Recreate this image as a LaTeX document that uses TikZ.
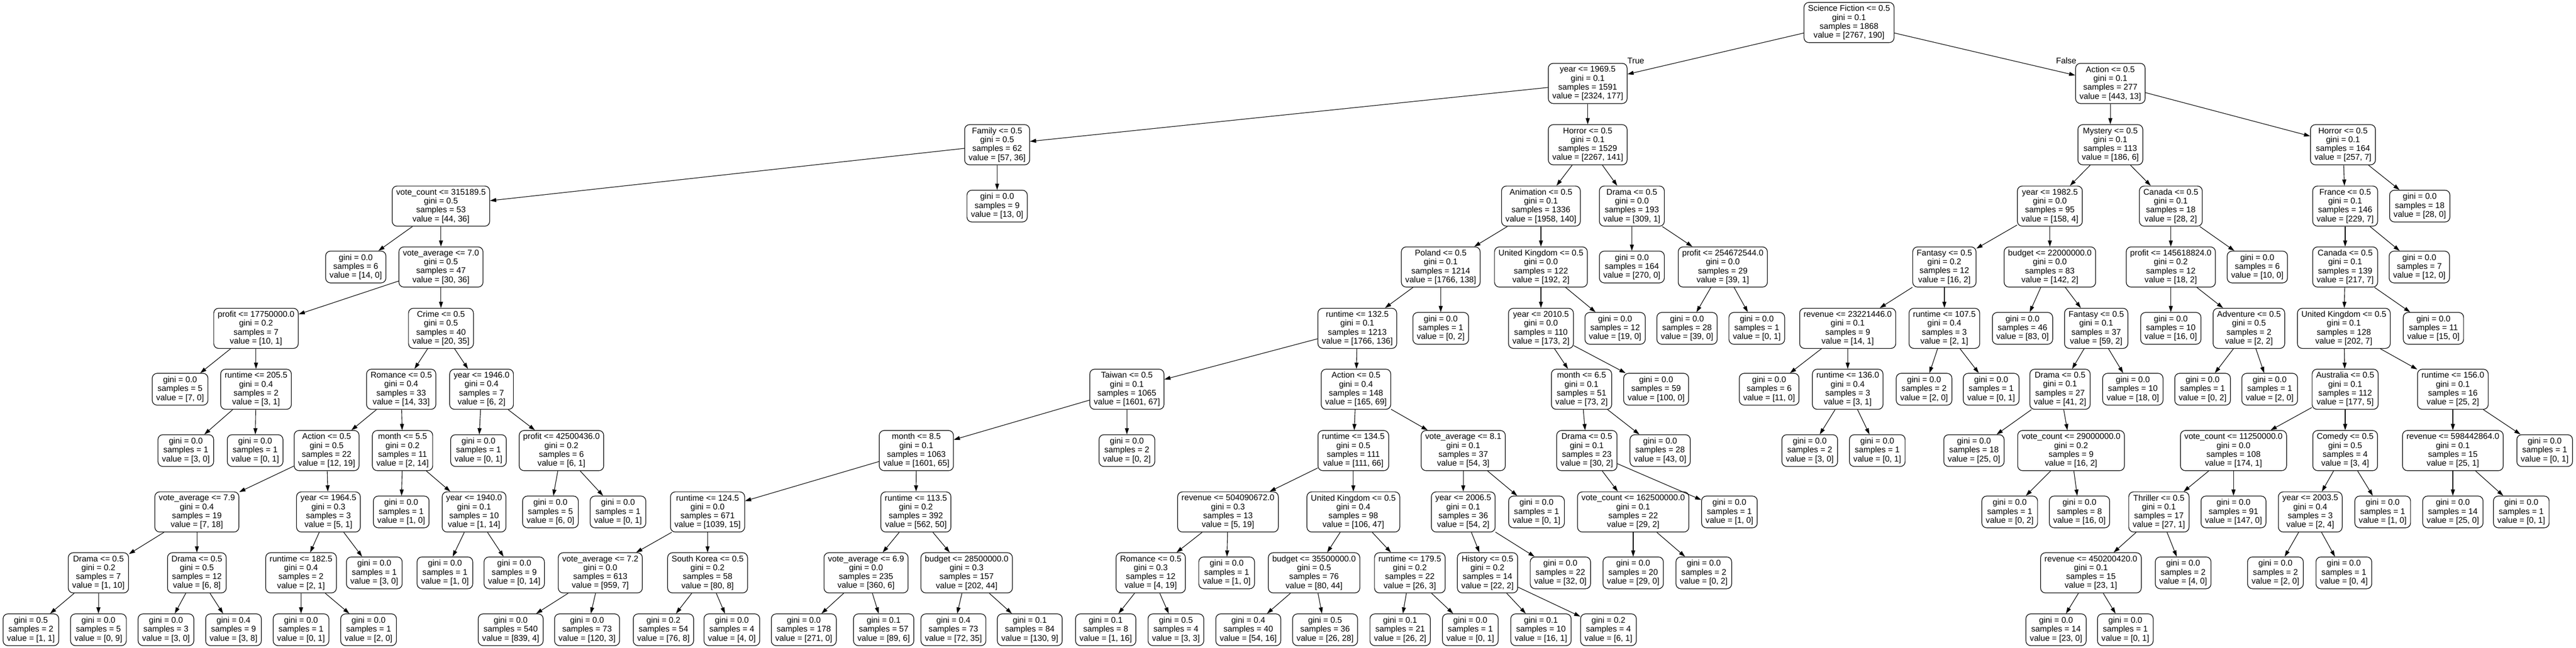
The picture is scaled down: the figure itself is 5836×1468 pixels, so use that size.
\documentclass[tikz,border=0pt]{standalone}
\usepackage{fontspec}
\setmainfont{Liberation Sans}
\usetikzlibrary{arrows.meta}
\newcommand\sv[4]{#1\\gini = #2\\samples = #3\\value = [#4]}
\newcommand\lv[3]{gini = #1\\samples = #2\\value = [#3]}
\newcommand\kid[6]{\node[#1] (#3) at (#4,#5) {#6}; \draw[edg] (#2) -- (#3);}
\begin{document}
\begin{tikzpicture}[x=1pt,y=-1pt,
 dnode/.style={draw, line width=1.4pt, rounded corners=11pt, align=center, inner xsep=9pt, inner ysep=2pt, minimum height=91pt, font=\fontsize{18.8}{20.2}\selectfont},
 lnode/.style={dnode, minimum height=72pt},
 edg/.style={line width=1.3pt, -{Triangle[length=14pt,width=9pt]}},
 lab/.style={font=\fontsize{18.8}{20.2}\selectfont, inner sep=0pt}]
\fill[white] (0,0) rectangle (5836,1468);
\useasboundingbox (0,0) rectangle (5836,1468);
% level 0
\node[dnode] (t) at (4189,51) {\sv{Science Fiction <= 0.5}{0.1}{1868}{2767, 190}};
\node[lab] (ltrue) at (3706,138) {True};
\node[lab] (lfalse) at (4681,138) {False};
% level 1
\kid{dnode}{t}{t0}{3597}{189}{\sv{year <= 1969.5}{0.1}{1591}{2324, 177}}
\kid{dnode}{t}{t1}{4781}{189}{\sv{Action <= 0.5}{0.1}{277}{443, 13}}
% level 2
\kid{dnode}{t0}{t00}{2259}{328}{\sv{Family <= 0.5}{0.5}{62}{57, 36}}
\kid{dnode}{t0}{t01}{3597}{328}{\sv{Horror <= 0.5}{0.1}{1529}{2267, 141}}
\kid{dnode}{t1}{t10}{4781}{328}{\sv{Mystery <= 0.5}{0.1}{113}{186, 6}}
\kid{dnode}{t1}{t11}{5308}{328}{\sv{Horror <= 0.5}{0.1}{164}{257, 7}}
% level 3
\kid{dnode}{t00}{t000}{999}{467}{\sv{vote\_count <= 315189.5}{0.5}{53}{44, 36}}
\kid{lnode}{t00}{t001}{2259}{467}{\lv{0.0}{9}{13, 0}}
\kid{dnode}{t01}{t010}{3491}{467}{\sv{Animation <= 0.5}{0.1}{1336}{1958, 140}}
\kid{dnode}{t01}{t011}{3697}{467}{\sv{Drama <= 0.5}{0.0}{193}{309, 1}}
\kid{dnode}{t10}{t100}{4644}{467}{\sv{year <= 1982.5}{0.0}{95}{158, 4}}
\kid{dnode}{t10}{t101}{4918}{467}{\sv{Canada <= 0.5}{0.1}{18}{28, 2}}
\kid{dnode}{t11}{t110}{5313}{467}{\sv{France <= 0.5}{0.1}{146}{229, 7}}
\kid{lnode}{t11}{t111}{5482}{467}{\lv{0.0}{18}{28, 0}}
% level 4
\kid{lnode}{t000}{t0000}{806}{605}{\lv{0.0}{6}{14, 0}}
\kid{dnode}{t000}{t0001}{999}{605}{\sv{vote\_average <= 7.0}{0.5}{47}{30, 36}}
\kid{dnode}{t010}{t0100}{3264}{605}{\sv{Poland <= 0.5}{0.1}{1214}{1766, 138}}
\kid{dnode}{t010}{t0101}{3491}{605}{\sv{United Kingdom <= 0.5}{0.0}{122}{192, 2}}
\kid{lnode}{t011}{t0110}{3697}{605}{\lv{0.0}{164}{270, 0}}
\kid{dnode}{t011}{t0111}{3903}{605}{\sv{profit <= 254672544.0}{0.0}{29}{39, 1}}
\kid{dnode}{t100}{t1000}{4405}{605}{\sv{Fantasy <= 0.5}{0.2}{12}{16, 2}}
\kid{dnode}{t100}{t1001}{4644}{605}{\sv{budget <= 22000000.0}{0.0}{83}{142, 2}}
\kid{dnode}{t101}{t1010}{4918}{605}{\sv{profit <= 145618824.0}{0.2}{12}{18, 2}}
\kid{lnode}{t101}{t1011}{5114}{605}{\lv{0.0}{6}{10, 0}}
\kid{dnode}{t110}{t1100}{5313}{605}{\sv{Canada <= 0.5}{0.1}{139}{217, 7}}
\kid{lnode}{t110}{t1101}{5481}{605}{\lv{0.0}{7}{12, 0}}
% level 5
\kid{dnode}{t0001}{t00010}{580}{744}{\sv{profit <= 17750000.0}{0.2}{7}{10, 1}}
\kid{dnode}{t0001}{t00011}{999}{744}{\sv{Crime <= 0.5}{0.5}{40}{20, 35}}
\kid{dnode}{t0100}{t01000}{3075}{744}{\sv{runtime <= 132.5}{0.1}{1213}{1766, 136}}
\kid{lnode}{t0100}{t01001}{3264}{744}{\lv{0.0}{1}{0, 2}}
\kid{dnode}{t0101}{t01010}{3491}{744}{\sv{year <= 2010.5}{0.0}{110}{173, 2}}
\kid{lnode}{t0101}{t01011}{3659}{744}{\lv{0.0}{12}{19, 0}}
\kid{lnode}{t0111}{t01110}{3822}{744}{\lv{0.0}{28}{39, 0}}
\kid{lnode}{t0111}{t01111}{3980}{744}{\lv{0.0}{1}{0, 1}}
\kid{dnode}{t1000}{t10000}{4186}{744}{\sv{revenue <= 23221446.0}{0.1}{9}{14, 1}}
\kid{dnode}{t1000}{t10001}{4405}{744}{\sv{runtime <= 107.5}{0.4}{3}{2, 1}}
\kid{lnode}{t1001}{t10010}{4582}{744}{\lv{0.0}{46}{83, 0}}
\kid{dnode}{t1001}{t10011}{4749}{744}{\sv{Fantasy <= 0.5}{0.1}{37}{59, 2}}
\kid{lnode}{t1010}{t10100}{4918}{744}{\lv{0.0}{10}{16, 0}}
\kid{dnode}{t1010}{t10101}{5095}{744}{\sv{Adventure <= 0.5}{0.5}{2}{2, 2}}
\kid{dnode}{t1100}{t11000}{5310}{744}{\sv{United Kingdom <= 0.5}{0.1}{128}{202, 7}}
\kid{lnode}{t1100}{t11001}{5513}{744}{\lv{0.0}{11}{15, 0}}
% level 6
\kid{lnode}{t00010}{t000100}{408}{882}{\lv{0.0}{5}{7, 0}}
\kid{dnode}{t00010}{t000101}{580}{882}{\sv{runtime <= 205.5}{0.4}{2}{3, 1}}
\kid{dnode}{t00011}{t000110}{909}{882}{\sv{Romance <= 0.5}{0.4}{33}{14, 33}}
\kid{dnode}{t00011}{t000111}{1091}{882}{\sv{year <= 1946.0}{0.4}{7}{6, 2}}
\kid{dnode}{t01000}{t010000}{2553}{882}{\sv{Taiwan <= 0.5}{0.1}{1065}{1601, 67}}
\kid{dnode}{t01000}{t010001}{3072}{882}{\sv{Action <= 0.5}{0.4}{148}{165, 69}}
\kid{dnode}{t01010}{t010100}{3583}{882}{\sv{month <= 6.5}{0.1}{51}{73, 2}}
\kid{lnode}{t01010}{t010101}{3752}{882}{\lv{0.0}{59}{100, 0}}
\kid{lnode}{t10000}{t100000}{4008}{882}{\lv{0.0}{6}{11, 0}}
\kid{dnode}{t10000}{t100001}{4186}{882}{\sv{runtime <= 136.0}{0.4}{3}{3, 1}}
\kid{lnode}{t10001}{t100010}{4359}{882}{\lv{0.0}{2}{2, 0}}
\kid{lnode}{t10001}{t100011}{4511}{882}{\lv{0.0}{1}{0, 1}}
\kid{dnode}{t10011}{t100110}{4667}{882}{\sv{Drama <= 0.5}{0.1}{27}{41, 2}}
\kid{lnode}{t10011}{t100111}{4832}{882}{\lv{0.0}{10}{18, 0}}
\kid{lnode}{t10101}{t101010}{4990}{882}{\lv{0.0}{1}{0, 2}}
\kid{lnode}{t10101}{t101011}{5142}{882}{\lv{0.0}{1}{2, 0}}
\kid{dnode}{t11000}{t110000}{5313}{882}{\sv{Australia <= 0.5}{0.1}{112}{177, 5}}
\kid{dnode}{t11000}{t110001}{5557}{882}{\sv{runtime <= 156.0}{0.1}{16}{25, 2}}
% level 7
\kid{lnode}{t000101}{t0001010}{421}{1021}{\lv{0.0}{1}{3, 0}}
\kid{lnode}{t000101}{t0001011}{578}{1021}{\lv{0.0}{1}{0, 1}}
\kid{dnode}{t000110}{t0001100}{740}{1021}{\sv{Action <= 0.5}{0.5}{22}{12, 19}}
\kid{dnode}{t000110}{t0001101}{912}{1021}{\sv{month <= 5.5}{0.2}{11}{2, 14}}
\kid{lnode}{t000111}{t0001110}{1084}{1021}{\lv{0.0}{1}{0, 1}}
\kid{dnode}{t000111}{t0001111}{1272}{1021}{\sv{profit <= 42500436.0}{0.2}{6}{6, 1}}
\kid{dnode}{t010000}{t0100000}{2076}{1021}{\sv{month <= 8.5}{0.1}{1063}{1601, 65}}
\kid{lnode}{t010000}{t0100001}{2553}{1021}{\lv{0.0}{2}{0, 2}}
\kid{dnode}{t010001}{t0100010}{3066}{1021}{\sv{runtime <= 134.5}{0.5}{111}{111, 66}}
\kid{dnode}{t010001}{t0100011}{3315}{1021}{\sv{vote\_average <= 8.1}{0.1}{37}{54, 3}}
\kid{dnode}{t010100}{t0101000}{3595}{1021}{\sv{Drama <= 0.5}{0.1}{23}{30, 2}}
\kid{lnode}{t010100}{t0101001}{3761}{1021}{\lv{0.0}{28}{43, 0}}
\kid{lnode}{t100001}{t1000010}{4100}{1021}{\lv{0.0}{2}{3, 0}}
\kid{lnode}{t100001}{t1000011}{4253}{1021}{\lv{0.0}{1}{0, 1}}
\kid{lnode}{t100110}{t1001100}{4472}{1021}{\lv{0.0}{18}{25, 0}}
\kid{dnode}{t100110}{t1001101}{4692}{1021}{\sv{vote\_count <= 29000000.0}{0.2}{9}{16, 2}}
\kid{dnode}{t110000}{t1100000}{5060}{1021}{\sv{vote\_count <= 11250000.0}{0.0}{108}{174, 1}}
\kid{dnode}{t110000}{t1100001}{5313}{1021}{\sv{Comedy <= 0.5}{0.5}{4}{3, 4}}
\kid{dnode}{t110001}{t1100010}{5557}{1021}{\sv{revenue <= 598442864.0}{0.1}{15}{25, 1}}
\kid{lnode}{t110001}{t1100011}{5765}{1021}{\lv{0.0}{1}{0, 1}}
% level 8
\kid{dnode}{t0001100}{t00011000}{446}{1160}{\sv{vote\_average <= 7.9}{0.4}{19}{7, 18}}
\kid{dnode}{t0001100}{t00011001}{744}{1160}{\sv{year <= 1964.5}{0.3}{3}{5, 1}}
\kid{lnode}{t0001101}{t00011010}{909}{1160}{\lv{0.0}{1}{1, 0}}
\kid{dnode}{t0001101}{t00011011}{1074}{1160}{\sv{year <= 1940.0}{0.1}{10}{1, 14}}
\kid{lnode}{t0001111}{t00011110}{1247}{1160}{\lv{0.0}{5}{6, 0}}
\kid{lnode}{t0001111}{t00011111}{1400}{1160}{\lv{0.0}{1}{0, 1}}
\kid{dnode}{t0100000}{t01000000}{1603}{1160}{\sv{runtime <= 124.5}{0.0}{671}{1039, 15}}
\kid{dnode}{t0100000}{t01000001}{2075}{1160}{\sv{runtime <= 113.5}{0.2}{392}{562, 50}}
\kid{dnode}{t0100010}{t01000100}{2782}{1160}{\sv{revenue <= 504090672.0}{0.3}{13}{5, 19}}
\kid{dnode}{t0100010}{t01000101}{3066}{1160}{\sv{United Kingdom <= 0.5}{0.4}{98}{106, 47}}
\kid{dnode}{t0100011}{t01000110}{3315}{1160}{\sv{year <= 2006.5}{0.1}{36}{54, 2}}
\kid{lnode}{t0100011}{t01000111}{3481}{1160}{\lv{0.0}{1}{0, 1}}
\kid{dnode}{t0101000}{t01010000}{3700}{1160}{\sv{vote\_count <= 162500000.0}{0.1}{22}{29, 2}}
\kid{lnode}{t0101000}{t01010001}{3918}{1160}{\lv{0.0}{1}{1, 0}}
\kid{lnode}{t1001101}{t10011010}{4553}{1160}{\lv{0.0}{1}{0, 2}}
\kid{lnode}{t1001101}{t10011011}{4711}{1160}{\lv{0.0}{8}{16, 0}}
\kid{dnode}{t1100000}{t11000000}{4891}{1160}{\sv{Thriller <= 0.5}{0.1}{17}{27, 1}}
\kid{lnode}{t1100000}{t11000001}{5060}{1160}{\lv{0.0}{91}{147, 0}}
\kid{dnode}{t1100001}{t11000010}{5234}{1160}{\sv{year <= 2003.5}{0.4}{3}{2, 4}}
\kid{lnode}{t1100001}{t11000011}{5398}{1160}{\lv{0.0}{1}{1, 0}}
\kid{lnode}{t1100010}{t11000100}{5557}{1160}{\lv{0.0}{14}{25, 0}}
\kid{lnode}{t1100010}{t11000101}{5712}{1160}{\lv{0.0}{1}{0, 1}}
% level 9
\kid{dnode}{t00011000}{t000110000}{223}{1298}{\sv{Drama <= 0.5}{0.2}{7}{1, 10}}
\kid{dnode}{t00011000}{t000110001}{446}{1298}{\sv{Drama <= 0.5}{0.5}{12}{6, 8}}
\kid{dnode}{t00011001}{t000110010}{682}{1298}{\sv{runtime <= 182.5}{0.4}{2}{2, 1}}
\kid{lnode}{t00011001}{t000110011}{848}{1298}{\lv{0.0}{1}{3, 0}}
\kid{lnode}{t00011011}{t000110110}{1008}{1298}{\lv{0.0}{1}{1, 0}}
\kid{lnode}{t00011011}{t000110111}{1165}{1298}{\lv{0.0}{9}{0, 14}}
\kid{dnode}{t01000000}{t010000000}{1360}{1298}{\sv{vote\_average <= 7.2}{0.0}{613}{959, 7}}
\kid{dnode}{t01000000}{t010000001}{1603}{1298}{\sv{South Korea <= 0.5}{0.2}{58}{80, 8}}
\kid{dnode}{t01000001}{t010000010}{1962}{1298}{\sv{vote\_average <= 6.9}{0.0}{235}{360, 6}}
\kid{dnode}{t01000001}{t010000011}{2190}{1298}{\sv{budget <= 28500000.0}{0.3}{157}{202, 44}}
\kid{dnode}{t01000100}{t010001000}{2607}{1298}{\sv{Romance <= 0.5}{0.3}{12}{4, 19}}
\kid{lnode}{t01000100}{t010001001}{2779}{1298}{\lv{0.0}{1}{1, 0}}
\kid{dnode}{t01000101}{t010001010}{2977}{1298}{\sv{budget <= 35500000.0}{0.5}{76}{80, 44}}
\kid{dnode}{t01000101}{t010001011}{3194}{1298}{\sv{runtime <= 179.5}{0.2}{22}{26, 3}}
\kid{dnode}{t01000110}{t010001100}{3370}{1298}{\sv{History <= 0.5}{0.2}{14}{22, 2}}
\kid{lnode}{t01000110}{t010001101}{3535}{1298}{\lv{0.0}{22}{32, 0}}
\kid{lnode}{t01010000}{t010100000}{3700}{1298}{\lv{0.0}{20}{29, 0}}
\kid{lnode}{t01010000}{t010100001}{3860}{1298}{\lv{0.0}{2}{0, 2}}
\kid{dnode}{t11000000}{t110000000}{4737}{1298}{\sv{revenue <= 450200420.0}{0.1}{15}{23, 1}}
\kid{lnode}{t11000000}{t110000001}{4946}{1298}{\lv{0.0}{2}{4, 0}}
\kid{lnode}{t11000010}{t110000100}{5155}{1298}{\lv{0.0}{2}{2, 0}}
\kid{lnode}{t11000010}{t110000101}{5310}{1298}{\lv{0.0}{1}{0, 4}}
% level 10
\kid{lnode}{t000110000}{t0001100000}{70}{1427}{\lv{0.5}{2}{1, 1}}
\kid{lnode}{t000110000}{t0001100001}{223}{1427}{\lv{0.0}{5}{0, 9}}
\kid{lnode}{t000110001}{t0001100010}{376}{1427}{\lv{0.0}{3}{3, 0}}
\kid{lnode}{t000110001}{t0001100011}{529}{1427}{\lv{0.4}{9}{3, 8}}
\kid{lnode}{t000110010}{t0001100100}{682}{1427}{\lv{0.0}{1}{0, 1}}
\kid{lnode}{t000110010}{t0001100101}{835}{1427}{\lv{0.0}{1}{2, 0}}
\kid{lnode}{t010000000}{t0100000000}{1157}{1427}{\lv{0.0}{540}{839, 4}}
\kid{lnode}{t010000000}{t0100000001}{1330}{1427}{\lv{0.0}{73}{120, 3}}
\kid{lnode}{t010000001}{t0100000010}{1503}{1427}{\lv{0.2}{54}{76, 8}}
\kid{lnode}{t010000001}{t0100000011}{1658}{1427}{\lv{0.0}{4}{4, 0}}
\kid{lnode}{t010000010}{t0100000100}{1821}{1427}{\lv{0.0}{178}{271, 0}}
\kid{lnode}{t010000010}{t0100000101}{2002}{1427}{\lv{0.1}{57}{89, 6}}
\kid{lnode}{t010000011}{t0100000110}{2160}{1427}{\lv{0.4}{73}{72, 35}}
\kid{lnode}{t010000011}{t0100000111}{2333}{1427}{\lv{0.1}{84}{130, 9}}
\kid{lnode}{t010001000}{t0100010000}{2505}{1427}{\lv{0.1}{8}{1, 16}}
\kid{lnode}{t010001000}{t0100010001}{2664}{1427}{\lv{0.5}{4}{3, 3}}
\kid{lnode}{t010001010}{t0100010100}{2828}{1427}{\lv{0.4}{40}{54, 16}}
\kid{lnode}{t010001010}{t0100010101}{3002}{1427}{\lv{0.5}{36}{26, 28}}
\kid{lnode}{t010001011}{t0100010110}{3172}{1427}{\lv{0.1}{21}{26, 2}}
\kid{lnode}{t010001011}{t0100010111}{3331}{1427}{\lv{0.0}{1}{0, 1}}
\kid{lnode}{t010001100}{t0100011000}{3491}{1427}{\lv{0.1}{10}{16, 1}}
\kid{lnode}{t010001100}{t0100011001}{3644}{1427}{\lv{0.2}{4}{6, 1}}
\kid{lnode}{t110000000}{t1100000000}{4658}{1427}{\lv{0.0}{14}{23, 0}}
\kid{lnode}{t110000000}{t1100000001}{4815}{1427}{\lv{0.0}{1}{0, 1}}
\end{tikzpicture}
\end{document}
